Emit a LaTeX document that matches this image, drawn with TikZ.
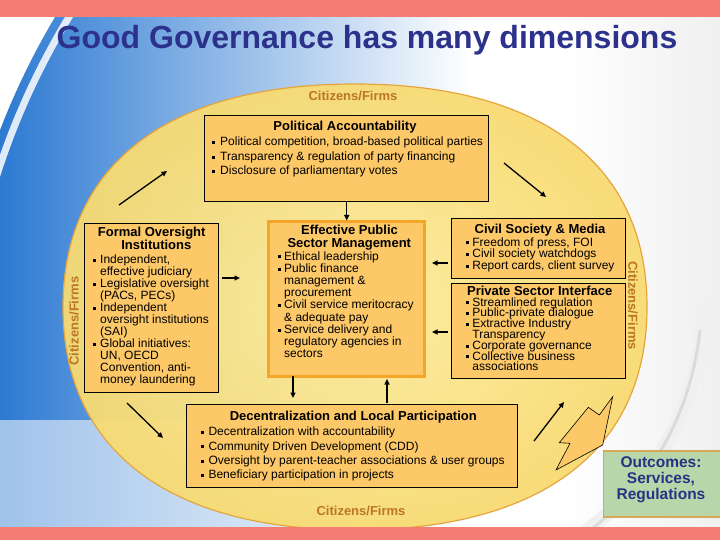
\documentclass[tikz,border=0pt]{standalone}
\usepackage{fontspec}
\setmainfont{Liberation Sans}
\usetikzlibrary{arrows.meta,calc}
\definecolor{salmon}{RGB}{244,124,114}
\definecolor{ttlblue}{RGB}{44,50,140}
\definecolor{yl1}{RGB}{253,237,160}
\definecolor{yl2}{RGB}{248,219,115}
\definecolor{ylEdge}{RGB}{230,165,60}
\definecolor{boxfill}{RGB}{252,200,104}
\definecolor{effedge}{RGB}{245,165,40}
\definecolor{citz}{RGB}{188,118,36}
\definecolor{outgreen}{RGB}{183,214,170}
\definecolor{outedge}{RGB}{212,170,90}
\definecolor{outtext}{RGB}{40,50,130}
\definecolor{skyblue}{RGB}{45,122,210}
\definecolor{paleblue}{RGB}{190,216,240}
\lineskiplimit=-100pt
\def\bgap{5pt}
\newcommand\BL[1]{\hbox{\rule[1.7pt]{3pt}{3pt}\hspace{\bgap}#1}}
\newcommand\CL[1]{\hbox{\hspace{\dimexpr 3pt+\bgap\relax}#1}}
\newcommand\CT[1]{\vtop{\halign{\hfil##\hfil\cr#1\crcr}}}
\newcommand\ellpath{(647,307) .. controls (647,449.7) and (541.9,530) .. (355,530) .. controls (168.1,530) and (63,449.7) .. (63,307) .. controls (63,164.3) and (168.1,84) .. (355,84) .. controls (541.9,84) and (647,164.3) .. (647,307) -- cycle}
\begin{document}
\begin{tikzpicture}[x=1pt,y=-1pt,
  bx/.style={draw=black, line width=0.8pt, fill=boxfill, inner sep=0pt, anchor=north west},
  effbx/.style={draw=effedge, line width=3pt, fill=boxfill, inner sep=0pt, anchor=north west},
  txt/.style={inner sep=0pt, anchor=base west, font=\fontsize{12}{12}\selectfont},
  ttl/.style={inner sep=0pt, anchor=base, font=\bfseries\fontsize{13}{13}\selectfont},
  citlab/.style={inner sep=0pt, text=citz, font=\bfseries\fontsize{13}{13}\selectfont},
  arr/.style={line width=1.3pt, -{Triangle[length=5.5pt,width=5pt]}}]
\useasboundingbox (0,0) rectangle (720,540);
\clip (0,0) rectangle (720,540);
\fill[white] (0,0) rectangle (720,540);
% background sphere
\begin{scope}
  \clip (700,400) circle[radius=750];
  \shade[left color=skyblue, right color=white] (0,17) rectangle (470,528);
  \fill[white, opacity=0.55] (0,420) rectangle (470,528);
\end{scope}
\draw[white, line width=7pt, opacity=0.85] (700,400) circle[radius=738];
% right shading
\shade[left color=white, right color=gray!12] (560,17) rectangle (720,528);
\draw[gray!12, line width=14pt] (705,300) .. controls (700,410) and (655,480) .. (585,532);
\draw[gray!28, line width=3pt] (700,330) .. controls (690,420) and (648,485) .. (588,532);
% main ellipse
\shade[inner color=yl1, outer color=yl2, opacity=0.95] \ellpath;
\draw[ylEdge, line width=1.2pt] \ellpath;
% title
\node[font=\bfseries\fontsize{32}{32}\selectfont, text=ttlblue, anchor=base, inner sep=0pt] (title) at (367,49) {Good Governance has many dimensions};
% citizens labels
\node[citlab] (cittop) at (353,96) {Citizens/Firms};
\node[citlab] (citbot) at (361,511) {Citizens/Firms};
\node[citlab, rotate=90] (citleft) at (74,321) {Citizens/Firms};
\node[citlab, rotate=-90] (citright) at (633,305.5) {Citizens/Firms};
% political accountability
\node[bx, minimum width=284pt, minimum height=86pt] (polbox) at (204.3,115) {};
\node[ttl] (poltitle) at (345,130.7) {Political Accountability};
\node[txt, font=\fontsize{12}{14.5}\selectfont] (poltext) at (211.7,146) {\vtop{\def\bgap{5.3pt}%
  \BL{Political competition, broad-based political parties}%
  \BL{Transparency \& regulation of party financing}%
  \BL{Disclosure of parliamentary votes}}};
% formal oversight
\node[bx, minimum width=134pt, minimum height=169pt] (formbox) at (84.3,222.7) {};
\node[ttl] (formt1) at (151.7,236.7) {Formal Oversight};
\node[ttl] (formt2) at (156.3,249.3) {Institutions};
\node[txt] (formtext) at (92.3,263.3) {\vtop{\def\bgap{4.7pt}%
  \BL{Independent,}\CL{effective judiciary}%
  \BL{Legislative oversight}\CL{(PACs, PECs)}%
  \BL{Independent}\CL{oversight institutions}\CL{(SAI)}%
  \BL{Global initiatives:}\CL{UN, OECD}\CL{Convention, anti-}\CL{money laundering}}};
% effective public sector management
\node[effbx, minimum width=156.5pt, minimum height=154.5pt] (effbox) at (266.5,220.5) {};
\node[ttl] (efft1) at (349.5,235) {Effective Public};
\node[ttl] (efft2) at (349.3,247.3) {Sector Management};
\node[txt, font=\fontsize{12}{12.2}\selectfont] (efftext) at (278,260) {\vtop{\def\bgap{3pt}%
  \BL{Ethical leadership}%
  \BL{Public finance}\CL{management \&}\CL{procurement}%
  \BL{Civil service meritocracy}\CL{\& adequate pay}%
  \BL{Service delivery and}\CL{regulatory agencies in}\CL{sectors}}};
% civil society
\node[bx, minimum width=174.3pt, minimum height=60pt] (civbox) at (450.7,218.3) {};
\node[ttl] (civtitle) at (540,233.3) {Civil Society \& Media};
\node[txt, font=\fontsize{12}{11.7}\selectfont] (civtext) at (466.2,246) {\vtop{\def\bgap{3pt}%
  \BL{Freedom of press, FOI}%
  \BL{Civil society watchdogs}%
  \BL{Report cards, client survey}}};
% private sector
\node[bx, minimum width=174.3pt, minimum height=95pt] (privbox) at (450.7,283.3) {};
\node[ttl] (privtitle) at (539.7,295) {Private Sector Interface};
\node[txt, font=\fontsize{12}{10.8}\selectfont] (privtext) at (466.2,306) {\vtop{\def\bgap{3pt}%
  \BL{Streamlined regulation}%
  \BL{Public-private dialogue}%
  \BL{Extractive Industry}\CL{Transparency}%
  \BL{Corporate governance}%
  \BL{Collective business}\CL{associations}}};
% decentralization
\node[bx, minimum width=331.3pt, minimum height=82.7pt] (decbox) at (186,404) {};
\node[ttl] (dectitle) at (353.3,420.7) {Decentralization and Local Participation};
\node[txt, font=\fontsize{12}{14.4}\selectfont] (dectext) at (200.7,435.7) {\vtop{\def\bgap{4.6pt}%
  \BL{Decentralization with accountability}%
  \BL{Community Driven Development (CDD)}%
  \BL{Oversight by parent-teacher associations \& user groups}%
  \BL{Beneficiary participation in projects}}};
% outcomes
\node[draw=outedge, line width=1.5pt, fill=outgreen, anchor=north west, inner sep=0pt, minimum width=122pt, minimum height=66pt] (outbox) at (602.5,450) {};
\node[inner sep=0pt, anchor=base, text=outtext, font=\bfseries\fontsize{15.5}{16}\selectfont] (outtxt) at (661,467) {\CT{Outcomes:\cr Services,\cr Regulations}};
% lightning arrow
\draw[fill=boxfill, line width=0.6pt] (612.7,396.7) -- (599.3,415) -- (588.3,407.3) -- (559.3,442.7) -- (570,443.3) -- (556,470) -- (602.7,445) -- cycle;
% connector coordinates
\coordinate (a2s) at (222,278); \coordinate (a2e) at (240,278);
\coordinate (a3s) at (448,263); \coordinate (a3e) at (432,263);
\coordinate (a4s) at (448,332); \coordinate (a4e) at (432,332);
\coordinate (a5s) at (293,376); \coordinate (a5e) at (293,398);
\coordinate (a6s) at (387,403); \coordinate (a6e) at (387,379);
\coordinate (d1s) at (119,205); \coordinate (d1e) at (167,171);
\coordinate (d2s) at (504,163); \coordinate (d2e) at (546,197);
\coordinate (d3s) at (127,403); \coordinate (d3e) at (163,438);
\coordinate (d4s) at (534,441); \coordinate (d4e) at (564,402);
\draw[arr] (polbox.south) -- (polbox.south |- effbox.north);
\draw[arr] (a2s) -- (a2e);
\draw[arr] (a3s) -- (a3e);
\draw[arr] (a4s) -- (a4e);
\draw[arr] (a5s) -- (a5e);
\draw[arr] (a6s) -- (a6e);
\draw[arr] (d1s) -- (d1e);
\draw[arr] (d2s) -- (d2e);
\draw[arr] (d3s) -- (d3e);
\draw[arr] (d4s) -- (d4e);
% bars
\fill[salmon] (0,0) rectangle (720,17);
\fill[salmon] (0,527) rectangle (720,540);
\end{tikzpicture}
\end{document}
